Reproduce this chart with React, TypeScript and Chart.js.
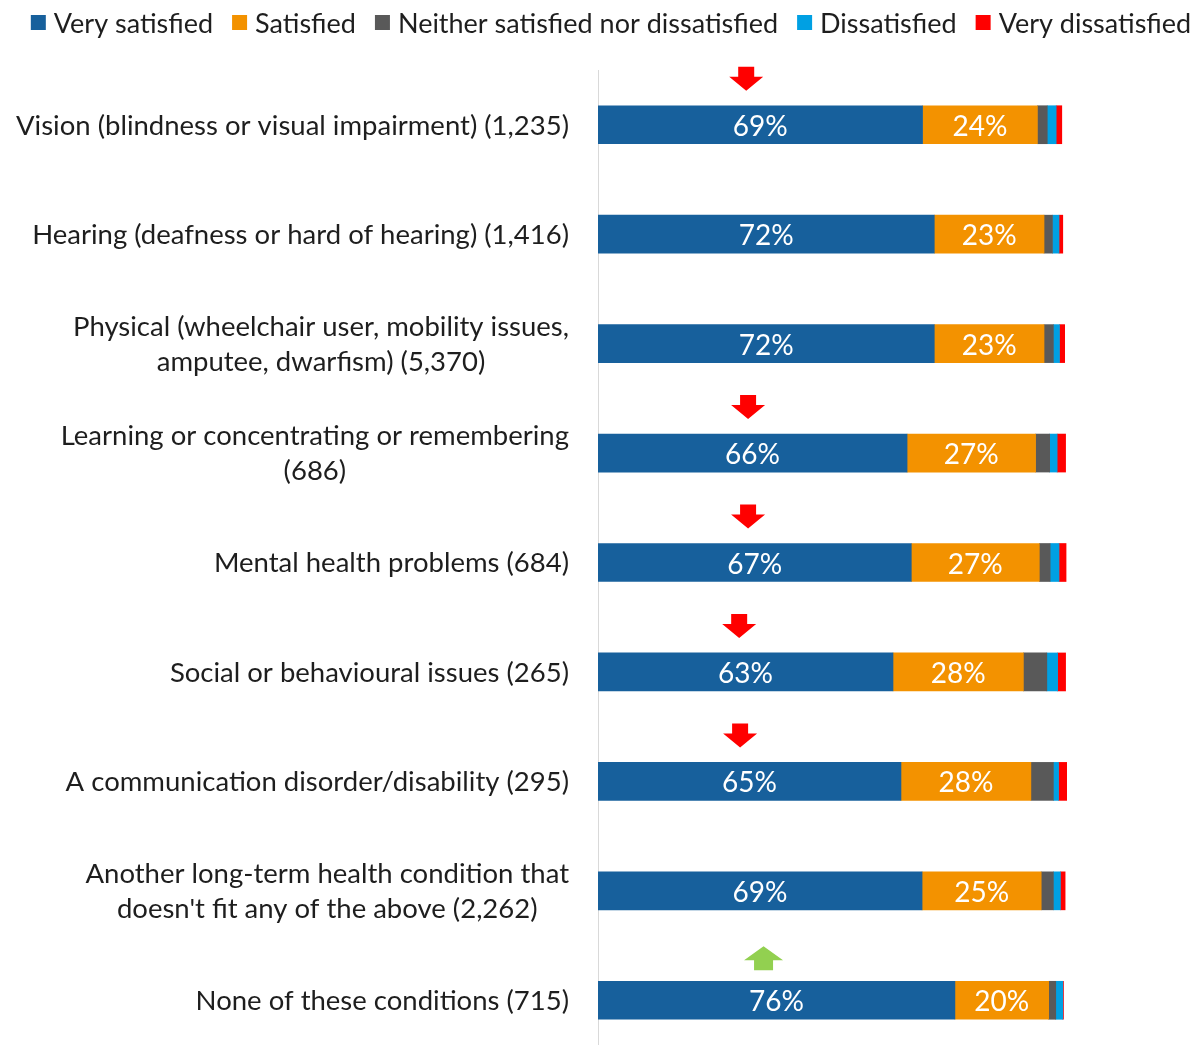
import React, { useEffect, useRef } from "react";
import { Chart, registerables } from "chart.js";

Chart.register(...registerables);

const categories: string[][] = [
  ["Vision (blindness or visual impairment) (1,235)"],
  ["Hearing (deafness or hard of hearing) (1,416)"],
  ["Physical (wheelchair user, mobility issues,", "amputee, dwarfism) (5,370)"],
  ["Learning or concentrating or remembering", "(686)"],
  ["Mental health problems (684)"],
  ["Social or behavioural issues (265)"],
  ["A communication disorder/disability (295)"],
  ["Another long-term health condition that", "doesn't fit any of the above (2,262)"],
  ["None of these conditions (715)"],
];

const seriesNames = [
  "Very satisfied",
  "Satisfied",
  "Neither satisfied nor dissatisfied",
  "Dissatisfied",
  "Very dissatisfied",
];

const verySatisfied = [69.2, 71.7, 71.7, 65.9, 66.8, 62.9, 64.6, 69.1, 76.1];
const satisfied = [24.49, 23.4, 23.4, 27.4, 27.3, 27.8, 27.7, 25.4, 20.0];
const neither = [2.1, 1.8, 2.0, 3.0, 2.3, 5.0, 4.8, 2.6, 1.5];
const dissatisfied = [1.9, 1.4, 1.3, 1.6, 1.9, 2.3, 1.1, 1.5, 1.5];
const veryDissatisfied = [1.2, 0.8, 1.1, 1.8, 1.5, 1.7, 2.2, 1.0, 0.15];

// significance arrows: direction per category and horizontal position (in % units)
const arrowDir: (string | null)[] = [
  "down", null, null, "down", "down", "down", "down", null, "up",
];
const arrowX = [31.6, 0, 0, 32.0, 32.0, 30.1, 30.3, 0, 35.3];

const colors = ["#17609C", "#F39200", "#595959", "#00A0E3", "#FF0000"];
const FONT = "Lato, 'Open Sans', sans-serif";

export default function App() {
  const ref = useRef<HTMLCanvasElement | null>(null);

  useEffect(() => {
    if (!ref.current) return;
    const seriesValues = [verySatisfied, satisfied, neither, dissatisfied, veryDissatisfied];

    const legendPlugin = {
      id: "customLegend",
      afterDraw(chart: any) {
        const ctx = chart.ctx;
        ctx.save();
        ctx.font = `27px ${FONT}`;
        const box = 15, gapText = 8, gapItem = 19;
        const widths = seriesNames.map((n) => ctx.measureText(n).width);
        const total =
          widths.reduce((a, b) => a + b + box + gapText, 0) + gapItem * (seriesNames.length - 1);
        let x = 611 - total / 2;
        const cy = 23;
        ctx.textBaseline = "middle";
        ctx.textAlign = "left";
        seriesNames.forEach((n, i) => {
          ctx.fillStyle = colors[i];
          ctx.fillRect(x, cy - 8, box, box);
          ctx.fillStyle = "#1e1e1e";
          ctx.fillText(n, x + box + gapText, cy + 1);
          x += box + gapText + widths[i] + gapItem;
        });
        ctx.restore();
      },
    };

    const catLabelPlugin = {
      id: "catLabels",
      afterDraw(chart: any) {
        const ctx = chart.ctx;
        const y = chart.scales.y;
        ctx.save();
        ctx.font = `27.5px ${FONT}`;
        ctx.fillStyle = "#1e1e1e";
        ctx.textAlign = "center";
        ctx.textBaseline = "middle";
        const right = chart.chartArea.left - 29;
        const lh = 35;
        categories.forEach((lines, i) => {
          const cy = y.getPixelForValue(i);
          const maxW = Math.max(...lines.map((l) => ctx.measureText(l).width));
          const cx = right - maxW / 2;
          lines.forEach((l, j) => {
            ctx.fillText(l, cx, cy + (j - (lines.length - 1) / 2) * lh + 1);
          });
        });
        ctx.restore();
      },
    };

    const valueLabelPlugin = {
      id: "valueLabels",
      afterDatasetsDraw(chart: any) {
        const ctx = chart.ctx;
        ctx.save();
        ctx.font = `28px ${FONT}`;
        ctx.fillStyle = "#ffffff";
        ctx.textAlign = "center";
        ctx.textBaseline = "middle";
        [0, 1].forEach((di) => {
          const meta = chart.getDatasetMeta(di);
          meta.data.forEach((el: any, i: number) => {
            const v = chart.data.datasets[di].data[i] as number;
            const p = el.getCenterPoint();
            ctx.fillText(`${Math.round(v)}%`, p.x, p.y + 2);
          });
        });
        ctx.restore();
      },
    };

    const arrowPlugin = {
      id: "arrows",
      afterDatasetsDraw(chart: any) {
        const ctx = chart.ctx;
        const xs = chart.scales.x;
        const ys = chart.scales.y;
        ctx.save();
        arrowDir.forEach((d, i) => {
          if (!d) return;
          const cx = xs.getPixelForValue(arrowX[i]);
          const cy = ys.getPixelForValue(i - (d === "up" ? 0.385 : 0.42));
          const h = 24, headH = 14;
          const w = d === "up" ? 39 : 34;
          const sw = d === "up" ? 19 : 16;
          ctx.beginPath();
          if (d === "down") {
            const top = cy - h / 2;
            ctx.moveTo(cx - sw / 2, top);
            ctx.lineTo(cx + sw / 2, top);
            ctx.lineTo(cx + sw / 2, top + h - headH);
            ctx.lineTo(cx + w / 2, top + h - headH);
            ctx.lineTo(cx, top + h);
            ctx.lineTo(cx - w / 2, top + h - headH);
            ctx.lineTo(cx - sw / 2, top + h - headH);
            ctx.fillStyle = "#FF0000";
          } else {
            const bot = cy + h / 2;
            ctx.moveTo(cx - sw / 2, bot);
            ctx.lineTo(cx + sw / 2, bot);
            ctx.lineTo(cx + sw / 2, bot - h + headH);
            ctx.lineTo(cx + w / 2, bot - h + headH);
            ctx.lineTo(cx, bot - h);
            ctx.lineTo(cx - w / 2, bot - h + headH);
            ctx.lineTo(cx - sw / 2, bot - h + headH);
            ctx.fillStyle = "#92D050";
          }
          ctx.closePath();
          ctx.fill();
        });
        ctx.restore();
      },
    };

    const chart = new Chart(ref.current, {
      type: "bar",
      data: {
        labels: categories.map((c) => c.join(" ")),
        datasets: seriesNames.map((name, i) => ({
          label: name,
          data: seriesValues[i],
          backgroundColor: colors[i],
          borderWidth: 0,
          barThickness: 38,
        })),
      },
      options: {
        indexAxis: "y",
        animation: false,
        responsive: true,
        maintainAspectRatio: false,
        layout: { padding: { top: 70, right: 135, left: 0, bottom: 0 } },
        plugins: {
          legend: { display: false },
          tooltip: { enabled: false },
        },
        scales: {
          x: {
            stacked: true,
            min: 0,
            max: 100,
            display: false,
          },
          y: {
            stacked: true,
            grid: { display: false },
            border: { display: true, color: "#d9d9d9", width: 1 },
            ticks: { display: false },
            afterFit: (scale: any) => {
              scale.width = 598;
            },
          },
        },
      },
      plugins: [legendPlugin, catLabelPlugin, valueLabelPlugin, arrowPlugin],
    });
    return () => chart.destroy();
  }, []);

  return (
    <div
      style={{
        position: "fixed",
        top: 0,
        left: 0,
        width: 1202,
        height: 1055,
        background: "#ffffff",
      }}
    >
      <canvas ref={ref} />
    </div>
  );
}
